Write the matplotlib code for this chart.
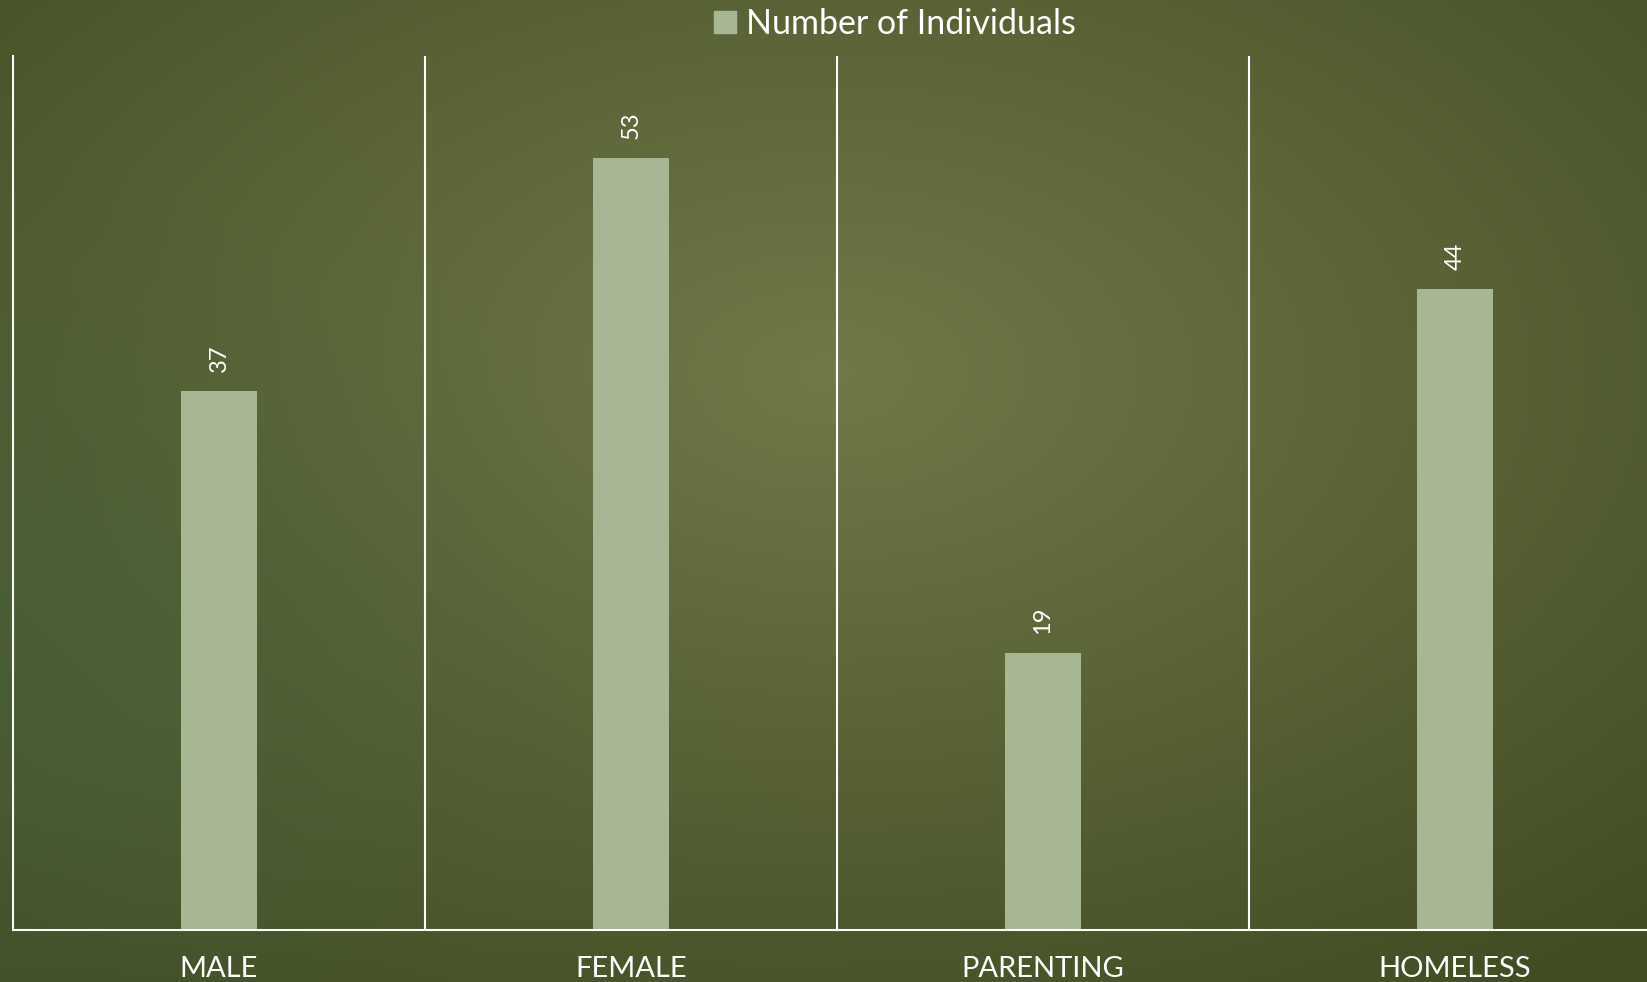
import numpy as np
import matplotlib
matplotlib.use("Agg")
import matplotlib.pyplot as plt
from matplotlib.patches import Rectangle

categories = ["MALE", "FEMALE", "PARENTING", "HOMELESS"]
values = [37, 53, 19, 44]
series_name = "Number of Individuals"

bar_color = "#a7b693"
font = "Lato"

W, H = 1647, 982
fig = plt.figure(figsize=(W / 100, H / 100), dpi=100)

# radial gradient background, lighter olive in the middle, darker edges
bg = fig.add_axes([0, 0, 1, 1], zorder=-10)
yy, xx = np.mgrid[0:H, 0:W]
cx, cy = 0.50 * W, 0.38 * H
r = np.sqrt(((xx - cx) / (0.75 * W)) ** 2 + ((yy - cy) / (0.75 * H)) ** 2)
r = np.clip(r, 0, 1)
center = np.array([0x71, 0x79, 0x48]) / 255
edge = np.array([0x42, 0x4d, 0x24]) / 255
img = center[None, None, :] * (1 - r[..., None]) + edge[None, None, :] * r[..., None]
# slight blue-green tint on the left side
gl = np.exp(-(((xx - 0.02 * W) / (0.25 * W)) ** 2 + ((yy - 0.68 * H) / (0.35 * H)) ** 2))
tint = np.array([0x48, 0x62, 0x3a]) / 255
img = img * (1 - 0.6 * gl[..., None]) + tint[None, None, :] * 0.6 * gl[..., None]
bg.imshow(img, aspect="auto", extent=[0, 1, 0, 1], origin="upper")
bg.set_axis_off()

ax = fig.add_axes([13 / W, 1 - 930 / H, 1648 / W, (930 - 56) / H])
ax.patch.set_alpha(0)
x = np.arange(len(categories))
bars = ax.bar(x, values, width=0.183, color=bar_color, zorder=2)
ax.set_xlim(-0.5, 3.5)
ax.set_ylim(0, 60)

for b, v in zip(bars, values):
    ax.annotate(str(v), (b.get_x() + b.get_width() / 2, b.get_height()),
                xytext=(0, 14), textcoords="offset points",
                rotation=90, ha="center", va="bottom",
                color="white", fontsize=17, family=font)

for sep in [0.5, 1.5, 2.5]:
    ax.axvline(sep, color="white", lw=1.5, zorder=1)

for s in ["top", "right"]:
    ax.spines[s].set_visible(False)
for s in ["left", "bottom"]:
    ax.spines[s].set_color("white")
    ax.spines[s].set_linewidth(1.5)

ax.set_yticks([])
ax.set_xticks(x)
ax.set_xticklabels(categories, color="white", fontsize=21, family=font)
ax.tick_params(axis="x", length=0, pad=19)

# legend at the top centre
ax.legend([Rectangle((0, 0), 1, 1, color=bar_color)], [series_name],
          loc="upper center", bbox_to_anchor=(0.535, 1.09), frameon=False,
          handlelength=0.65, handleheight=0.65, handletextpad=0.3,
          labelcolor="white", prop={"family": font, "size": 24.5})

fig.savefig("out.png", dpi=100)
